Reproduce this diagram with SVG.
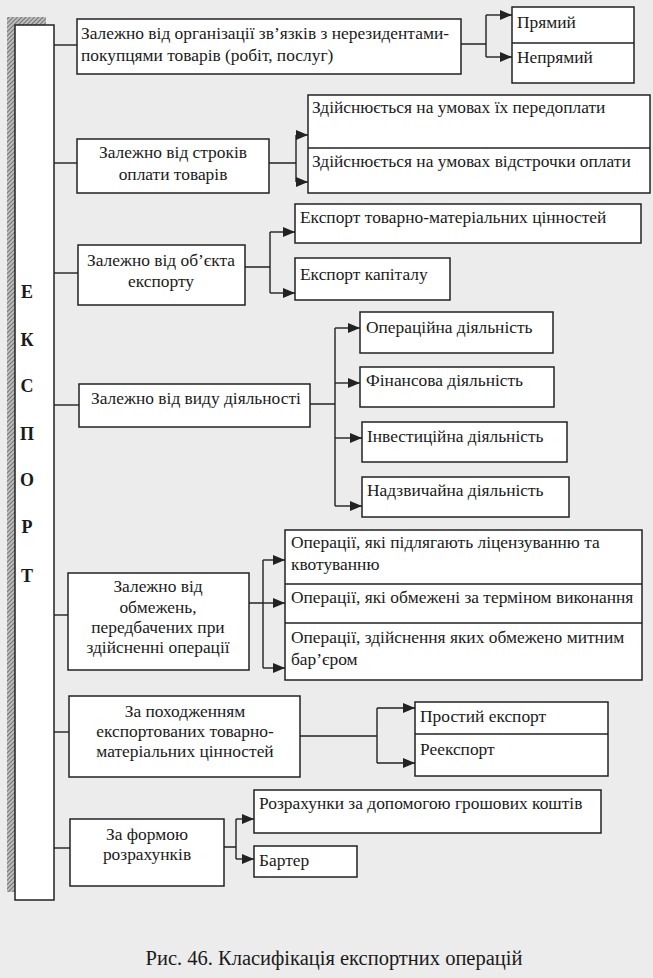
<svg xmlns="http://www.w3.org/2000/svg" width="653" height="978" viewBox="0 0 653 978">
<defs>
<pattern id="hatch" width="3" height="3" patternUnits="userSpaceOnUse" patternTransform="rotate(45)">
<rect width="3" height="3" fill="#bdbdbd"/>
<line x1="0" y1="0" x2="0" y2="3" stroke="#555" stroke-width="1.4"/>
</pattern>
<marker id="arr" markerUnits="userSpaceOnUse" markerWidth="12" markerHeight="10" refX="12" refY="5" orient="auto">
<path d="M0,0 L12,5 L0,10 z" fill="#222"/>
</marker>
<style>
.box{fill:#fff;stroke:#222;stroke-width:1.5}
.div{stroke:#222;stroke-width:1.3;fill:none}
.t{font-family:"Liberation Serif","Times New Roman",serif;font-size:17.4px;fill:#1a1a1a}
.c{text-anchor:middle}
.L{font-family:"Liberation Serif","Times New Roman",serif;font-size:18px;font-weight:bold;fill:#1a1a1a;text-anchor:middle}
.cap{font-family:"Liberation Serif","Times New Roman",serif;font-size:20.5px;fill:#1a1a1a;text-anchor:middle}
#conn path{fill:none;stroke:#222;stroke-width:1.4}
#conn .a{marker-end:url(#arr)}
</style>
</defs>
<rect x="0" y="0" width="653" height="978" fill="#ececec"/>

<g id="bar">
<rect x="7" y="17" width="39" height="875" fill="url(#hatch)"/>
<rect class="box" x="15" y="25" width="39" height="875"/>
<text class="L" x="27" y="298">Е</text>
<text class="L" x="27" y="346">К</text>
<text class="L" x="27" y="392">С</text>
<text class="L" x="27" y="440">П</text>
<text class="L" x="27" y="486">О</text>
<text class="L" x="27" y="533">Р</text>
<text class="L" x="27" y="582">Т</text>
</g>

<g id="conn">
<path d="M54,45 H77"/>
<path d="M54,163 H77"/>
<path d="M54,273 H78"/>
<path d="M54,405 H79"/>
<path d="M54,615 H68"/>
<path d="M54,732 H69"/>
<path d="M54,848 H70"/>

<path d="M461,44 H486 M486,15 V57"/>
<path class="a" d="M486,15 H512"/>
<path class="a" d="M486,57 H512"/>

<path d="M269,163 H296 M296,135 V182"/>
<path class="a" d="M296,135 H308"/>
<path class="a" d="M296,182 H308"/>

<path d="M245,267 H270 M270,232 V293"/>
<path class="a" d="M270,232 H295"/>
<path class="a" d="M270,293 H295"/>

<path d="M310,404 H335 M335,328 V506"/>
<path class="a" d="M335,328 H360"/>
<path class="a" d="M335,383 H360"/>
<path class="a" d="M335,438 H362"/>
<path class="a" d="M335,506 H362"/>

<path d="M249,603 H263 M263,560 V668"/>
<path class="a" d="M263,560 H285"/>
<path class="a" d="M263,603 H285"/>
<path class="a" d="M263,668 H285"/>

<path d="M300,736 H377 M377,708 V763"/>
<path class="a" d="M377,708 H415"/>
<path class="a" d="M377,763 H415"/>

<path d="M224,847 H236 M236,819 V859"/>
<path class="a" d="M236,819 H254"/>
<path class="a" d="M236,859 H254"/>
</g>

<g id="n1">
<rect class="box" x="77" y="19" width="384" height="55"/>
<text class="t" x="81" y="39">Залежно від організації зв’язків з нерезидентами-</text>
<text class="t" x="81" y="61">покупцями товарів (робіт, послуг)</text>
</g>
<g id="n1o">
<rect class="box" x="512" y="7" width="122" height="76"/>
<path class="div" d="M512,43 H634"/>
<text class="t" x="517" y="28">Прямий</text>
<text class="t" x="517" y="63">Непрямий</text>
</g>

<g id="n2">
<rect class="box" x="77" y="139" width="192" height="54"/>
<text class="t c" x="173" y="158">Залежно від строків</text>
<text class="t c" x="173" y="180">оплати товарів</text>
</g>
<g id="n2o">
<rect class="box" x="308" y="95" width="342" height="98"/>
<path class="div" d="M308,148 H650"/>
<text class="t" x="312" y="113">Здійснюється на умовах їх передоплати</text>
<text class="t" x="312" y="167">Здійснюється на умовах відстрочки оплати</text>
</g>

<g id="n3">
<rect class="box" x="78" y="245" width="167" height="60"/>
<text class="t c" x="161" y="266">Залежно від об’єкта</text>
<text class="t c" x="161" y="287">експорту</text>
</g>
<g id="n3a">
<rect class="box" x="295" y="204" width="346" height="39"/>
<text class="t" x="300" y="223">Експорт товарно-матеріальних цінностей</text>
</g>
<g id="n3b">
<rect class="box" x="295" y="258" width="155" height="42"/>
<text class="t" x="300" y="280">Експорт капіталу</text>
</g>

<g id="n4">
<rect class="box" x="79" y="384" width="231" height="43"/>
<text class="t" x="91" y="404">Залежно від виду діяльності</text>
</g>
<g id="n4a">
<rect class="box" x="360" y="312" width="193" height="41"/>
<text class="t" x="366" y="333">Операційна діяльність</text>
</g>
<g id="n4b">
<rect class="box" x="360" y="367" width="194" height="40"/>
<text class="t" x="366" y="386">Фінансова діяльність</text>
</g>
<g id="n4c">
<rect class="box" x="362" y="422" width="205" height="40"/>
<text class="t" x="367" y="442">Інвестиційна діяльність</text>
</g>
<g id="n4d">
<rect class="box" x="362" y="477" width="207" height="40"/>
<text class="t" x="367" y="496">Надзвичайна діяльність</text>
</g>

<g id="n5">
<rect class="box" x="68" y="573" width="181" height="97"/>
<text class="t c" x="158" y="592">Залежно від</text>
<text class="t c" x="158" y="613">обмежень,</text>
<text class="t c" x="158" y="633">передбачених при</text>
<text class="t c" x="158" y="653">здійсненні операції</text>
</g>
<g id="n5o">
<rect class="box" x="285" y="530" width="357" height="150"/>
<path class="div" d="M285,584 H642 M285,623 H642"/>
<text class="t" x="291" y="548">Операції, які підлягають ліцензуванню та</text>
<text class="t" x="291" y="570">квотуванню</text>
<text class="t" x="291" y="603">Операції, які обмежені за терміном виконання</text>
<text class="t" x="291" y="643">Операції, здійснення яких обмежено митним</text>
<text class="t" x="291" y="665">бар’єром</text>
</g>

<g id="n6">
<rect class="box" x="69" y="696" width="231" height="81"/>
<text class="t c" x="185" y="717">За походженням</text>
<text class="t c" x="185" y="737">експортованих товарно-</text>
<text class="t c" x="185" y="757">матеріальних цінностей</text>
</g>
<g id="n6o">
<rect class="box" x="415" y="702" width="193" height="74"/>
<path class="div" d="M415,734 H608"/>
<text class="t" x="420" y="722">Простий експорт</text>
<text class="t" x="420" y="755">Реекспорт</text>
</g>

<g id="n7">
<rect class="box" x="70" y="819" width="154" height="67"/>
<text class="t c" x="147" y="840">За формою</text>
<text class="t c" x="147" y="860">розрахунків</text>
</g>
<g id="n7a">
<rect class="box" x="254" y="790" width="347" height="43"/>
<text class="t" x="259" y="809">Розрахунки за допомогою грошових коштів</text>
</g>
<g id="n7b">
<rect class="box" x="254" y="846" width="103" height="31"/>
<text class="t" x="259" y="866">Бартер</text>
</g>

<text class="cap" x="334" y="965">Рис. 46. Класифікація експортних операцій</text>
</svg>
